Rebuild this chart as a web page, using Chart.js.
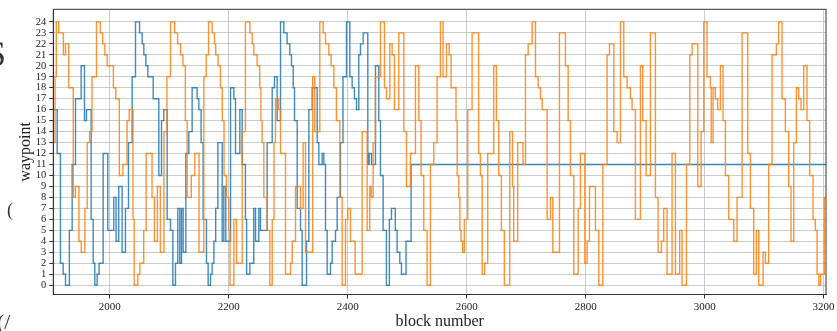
<!DOCTYPE html>
<html lang="en">
<head>
<meta charset="UTF-8">
<title>waypoint vs block number</title>
<style>
    body { margin: 0; background: #fff; }
    .wrap { position: relative; width: 837px; height: 331px; overflow: hidden; }
    canvas { position: absolute; left: 0; top: 0; }
    .frag { position: absolute; font-family: "Liberation Serif", serif; color: #333; line-height: 1; }
</style>
</head>
<body>
<div class="wrap">
    <canvas id="chart" width="837" height="331"></canvas>
    <span class="frag" style="left:-14px; top:36px; font-size:36px;">S</span>
    <span class="frag" style="left:7px; top:201px; font-size:18px;">(</span>
    <span class="frag" style="left:-3px; top:311px; font-size:22px;">(/</span>
</div>

<script src="https://cdn.jsdelivr.net/npm/chart.js"></script>
<script>
// block numbers where each series changes waypoint (step starts there)
const blueX = [1905, 1911.5, 1917, 1921.6, 1925.5, 1932, 1936.7, 1942.3, 1951.8, 1957.4, 1960.8, 1968.6, 1972, 1974.8,
    1978.7, 1982, 1988.8, 1996.6, 2006.7, 2010.6, 2015, 2020.7, 2026.3, 2031.4, 2037.6, 2043.2, 2050, 2054.4, 2057.2,
    2060.6, 2064, 2072.9, 2082.4, 2086.9, 2090.8, 2096.4, 2102, 2106, 2110.4, 2114.3, 2117.7, 2120.5, 2123.3, 2127.8,
    2132.8, 2138.4, 2146.8, 2149.6, 2153.5, 2156.9, 2162.5, 2165.3, 2169.3, 2172, 2175, 2178, 2181.6, 2188.9, 2191.7,
    2195, 2203, 2208.5, 2211.3, 2218.6, 2222.5, 2228, 2230, 2235.4, 2242, 2245, 2250.5, 2253.3, 2264.5, 2273, 2276.8,
    2281.3, 2287, 2292.5, 2298.1, 2302.6, 2305.4, 2308.3, 2310.5, 2315, 2320.6, 2323.4, 2330.7, 2334.6, 2340.2, 2348.6,
    2351.4, 2357, 2359.8, 2362.6, 2365.4, 2371, 2373.8, 2379.4, 2382.2, 2387.8, 2392, 2397.9, 2403.5, 2407.4, 2411.3,
    2414.7, 2418.6, 2421.4, 2425.9, 2433.7, 2436, 2440, 2446.6, 2452.2, 2455, 2459.5, 2465, 2470, 2473.5, 2480, 2483,
    2487.5, 2490.3, 2498, 2506.5, 3204];
const blueY = [16, 12, 2, 1, 0, 5, 11, 17, 20, 15, 16, 6, 2, 0,
    1, 2, 12, 5, 8, 4, 9, 3, 7, 13, 19, 24, 23, 22, 21,
    20, 19, 17, 10, 15, 16, 6, 5, 0, 2, 7, 2, 7, 3, 12,
    14, 18, 17, 16, 13, 6, 2, 0, 1, 2, 4, 7, 13, 4, 9,
    4, 18, 17, 12, 16, 11, 6, 1, 2, 7, 4, 7, 5, 13, 18, 19,
    15, 24, 23, 22, 21, 20, 18, 15, 7, 5, 0, 4, 16, 18, 13,
    11, 12, 11, 5, 1, 2, 4, 5, 8, 13, 19, 24, 19, 18, 17,
    16, 21, 22, 23, 11, 12, 11, 20, 15, 10, 5, 0, 6, 7, 5, 3,
    2, 1, 4, 11, 11];

const orangeX = [1905, 1908, 1910, 1914, 1922, 1925.5, 1931, 1938.5, 1942, 1948, 1952, 1958, 1962, 1966, 1970, 1977.6,
    1984, 1988, 1991.6, 1995.6, 2006, 2010, 2016, 2022, 2029, 2032.6, 2039, 2041, 2047, 2050.5, 2057, 2061, 2071, 2075,
    2080, 2085, 2091, 2096, 2102, 2109, 2114, 2119, 2123, 2127, 2130, 2137, 2143, 2150, 2158, 2162, 2166, 2172, 2176,
    2178, 2182, 2186, 2189, 2192, 2196, 2200, 2202, 2208.5, 2213, 2222.5, 2228, 2235.4, 2239.3, 2242, 2247.7, 2252,
    2254, 2256, 2259, 2264.5, 2269, 2273, 2276, 2278.5, 2284, 2287, 2295.4, 2303.8, 2306.6, 2312.2, 2320.6, 2325, 2329,
    2341, 2344.5, 2353, 2358.7, 2362.6, 2368.2, 2372.1, 2376.6, 2381, 2386.7, 2390.6, 2396.2, 2400.1, 2404.6, 2412.4,
    2424.2, 2432.6, 2437, 2439.5, 2442.7, 2446.6, 2455, 2461.7, 2465, 2470.7, 2474.6, 2478.5, 2485.8, 2494.2, 2498.7,
    2505.4, 2513.8, 2519.4, 2523.3, 2527.8, 2533.4, 2539, 2544.6, 2550.2, 2555.8, 2560.3, 2565.9, 2570.4, 2573.7, 2582,
    2584, 2586.6, 2588.5, 2590.5, 2593, 2596, 2601.7, 2609, 2620, 2623, 2626, 2630, 2635.3, 2645.4, 2649.9, 2653.8,
    2658.3, 2663.3, 2672.3, 2677, 2679, 2685.7, 2694.6, 2698.8, 2703.3, 2710, 2715.6, 2720, 2724, 2726.8, 2735.2,
    2740.8, 2744.7, 2755.9, 2766, 2770.5, 2774.4, 2780, 2787.3, 2791.2, 2798.5, 2802.4, 2806.4, 2816.4, 2822, 2828.8,
    2836, 2840, 2847.3, 2852.9, 2858.5, 2864, 2869.7, 2875.2, 2878, 2883.6, 2892, 2896, 2901.6, 2908.8, 2917.2, 2921.7,
    2927.3, 2931.2, 2936.8, 2945.2, 2950.9, 2958, 2962, 2969.4, 2975, 2978.9, 2988.4, 2994, 2998.5, 3004, 3009.7, 3011,
    3014.2, 3018, 3022, 3026.5, 3031, 3034.9, 3040.5, 3048.9, 3054.5, 3062.9, 3072.4, 3076.9, 3082.5, 3087, 3090.9,
    3098.2, 3102.1, 3107.7, 3113.3, 3120.6, 3124.5, 3130.1, 3135.7, 3141.3, 3145.2, 3149.7, 3154.2, 3158.1, 3162,
    3166.5, 3172.1, 3176.6, 3182.2, 3186.1, 3189, 3192, 3195, 3201.1, 3204];
const orangeY = [13, 19, 24, 23, 21, 22, 18, 8, 9, 4, 3, 7, 13, 14, 19, 24,
    23, 22, 21, 20, 18, 17, 10, 11, 15, 16, 6, 0, 1, 2, 5, 12, 8, 4,
    9, 3, 14, 19, 24, 23, 22, 21, 20, 15, 8, 10, 12, 3, 19, 21, 24, 23, 22,
    21, 20, 18, 15, 10, 8, 5, 0, 6, 2, 14, 24, 23, 22, 21, 20, 18,
    15, 13, 8, 5, 0, 6, 13, 17, 16, 12, 1, 2, 4, 9, 7, 13, 3,
    19, 14, 24, 23, 22, 21, 20, 18, 15, 8, 0, 6, 7, 4, 1,
    14, 5, 9, 8, 13, 19, 24, 18, 17, 22, 21, 16, 23, 14, 9,
    12, 20, 15, 10, 5, 0, 11, 13, 19, 24, 19, 22, 21, 18, 15,
    10, 8, 5, 4, 3, 6, 16, 23, 12, 10, 1, 2, 12, 20, 15, 10,
    5, 0, 14, 9, 4, 13, 11, 21, 22, 24, 19, 18, 17, 16, 6,
    8, 3, 23, 20, 15, 10, 1, 7, 12, 2, 4, 9, 5, 0, 11,
    21, 22, 14, 13, 24, 19, 18, 17, 16, 6, 20, 15, 10, 23, 8, 3,
    4, 7, 1, 12, 1, 5, 0, 11, 21, 22, 9, 14, 24, 19, 18, 13,
    18, 17, 16, 20, 15, 10, 6, 4, 8, 23, 12, 7, 1, 5, 0,
    3, 2, 11, 21, 22, 24, 17, 14, 9, 4, 13, 18, 17, 16,
    20, 15, 10, 6, 5, 1, 0, 1, 8, 8];

const xTicks = [2000, 2200, 2400, 2600, 2800, 3000, 3200];
const yTicks = [0, 1, 2, 3, 4, 5, 6, 7, 8, 9, 10, 11, 12, 13, 14, 15, 16, 17, 18, 19, 20, 21, 22, 23, 24];

function toPoints(xs, ys) {
    return xs.map((x, i) => ({ x: x, y: ys[i] }));
}

// box round the plot, like the matplotlib spines
const frame = {
    id: 'frame',
    afterDraw(chart) {
        const a = chart.chartArea;
        const c = chart.ctx;
        c.save();
        c.strokeStyle = '#333';
        c.lineWidth = 1;
        c.strokeRect(a.left, a.top, a.right - a.left, a.bottom - a.top);
        c.restore();
    }
};

const serif = '"Liberation Serif", "DejaVu Serif", serif';
const gridColor = 'rgba(176,176,176,0.65)';

new Chart(document.getElementById('chart').getContext('2d'), {
    type: 'line',
    data: {
        datasets: [
            {
                label: 'run 2',
                data: toPoints(orangeX, orangeY),
                borderColor: 'rgba(255,127,14,0.85)',
                borderWidth: 1.4,
                stepped: true,
                pointRadius: 0,
                fill: false,
                order: 0
            },
            {
                label: 'run 1',
                data: toPoints(blueX, blueY),
                borderColor: 'rgba(31,119,180,0.85)',
                borderWidth: 1.4,
                stepped: true,
                pointRadius: 0,
                fill: false,
                order: 1
            }
        ]
    },
    options: {
        responsive: false,
        animation: false,
        layout: { padding: { top: 4.5, right: 11, bottom: 0, left: 0 } },
        plugins: { legend: { display: false }, tooltip: { enabled: false } },
        scales: {
            x: {
                type: 'linear',
                min: 1905,
                max: 3204,
                afterBuildTicks: s => { s.ticks = xTicks.map(v => ({ value: v })); },
                afterFit: s => { s.height = 36.5; },
                ticks: {
                    autoSkip: false,
                    maxRotation: 0,
                    padding: 2,
                    color: '#222',
                    font: { family: serif, size: 11 },
                    callback: v => String(v)
                },
                grid: { color: gridColor, lineWidth: 1, tickLength: 4, tickColor: '#333' },
                border: { display: true, color: '#333', width: 1 },
                title: {
                    display: true,
                    text: 'block number',
                    color: '#222',
                    font: { family: serif, size: 16 },
                    padding: { top: 0, bottom: 0 }
                }
            },
            y: {
                type: 'linear',
                min: -0.85,
                max: 25.15,
                afterBuildTicks: s => { s.ticks = yTicks.map(v => ({ value: v })); },
                afterFit: s => { s.width = 53.3; },
                ticks: {
                    autoSkip: false,
                    padding: 3,
                    color: '#222',
                    font: { family: serif, size: 10.5 },
                    callback: v => String(v)
                },
                grid: { color: gridColor, lineWidth: 1, tickLength: 4, tickColor: '#333' },
                border: { display: true, color: '#333', width: 1 },
                title: {
                    display: true,
                    text: 'waypoint',
                    color: '#222',
                    font: { family: serif, size: 16 },
                    padding: { top: 16, bottom: 0 }
                }
            }
        }
    },
    plugins: [frame]
});
</script>
</body>
</html>
